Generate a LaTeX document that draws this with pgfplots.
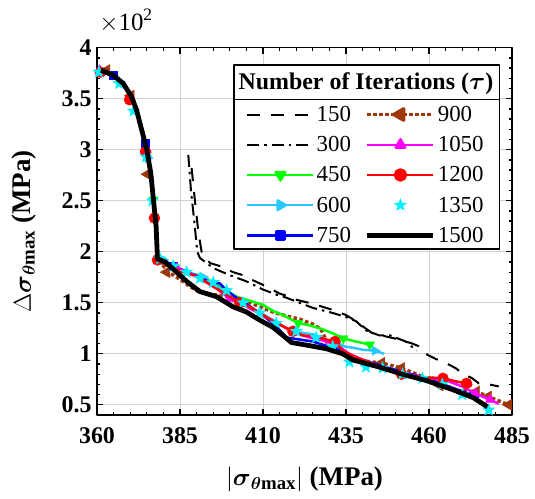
\documentclass[border=0pt]{standalone}
\usepackage{amsmath}
\usepackage{pgfplots}
\pgfplotsset{compat=1.18}
\usepackage{fontspec}
\setmainfont{Liberation Serif}
\definecolor{myg}{RGB}{0,255,0}
\definecolor{lblue}{RGB}{40,200,255}
\definecolor{brn}{RGB}{160,55,10}
\definecolor{cyn}{RGB}{0,240,255}
\definecolor{mag}{RGB}{255,0,255}
\pgfdeclareplotmark{fstar}{%
  \pgfpathmoveto{\pgfqpointpolar{90}{\pgfplotmarksize}}%
  \pgfpathlineto{\pgfqpointpolar{126}{0.42\pgfplotmarksize}}%
  \pgfpathlineto{\pgfqpointpolar{162}{\pgfplotmarksize}}%
  \pgfpathlineto{\pgfqpointpolar{198}{0.42\pgfplotmarksize}}%
  \pgfpathlineto{\pgfqpointpolar{234}{\pgfplotmarksize}}%
  \pgfpathlineto{\pgfqpointpolar{270}{0.42\pgfplotmarksize}}%
  \pgfpathlineto{\pgfqpointpolar{306}{\pgfplotmarksize}}%
  \pgfpathlineto{\pgfqpointpolar{342}{0.42\pgfplotmarksize}}%
  \pgfpathlineto{\pgfqpointpolar{18}{\pgfplotmarksize}}%
  \pgfpathlineto{\pgfqpointpolar{54}{0.42\pgfplotmarksize}}%
  \pgfpathclose\pgfusepathqfill}
\begin{document}
\begin{tikzpicture}
\useasboundingbox (-97bp,-84bp) rectangle (438bp,415bp);
\begin{axis}[
  scale only axis, width=415bp, height=367.3bp,
  xmin=360, xmax=485, ymin=0.40, ymax=4,
  xtick={360,385,410,435,460,485},
  ytick={0.5,1,1.5,2,2.5,3,3.5,4},
  minor x tick num=4, minor y tick num=4,
  tick align=inside,
  major tick length=6bp, minor tick length=3.5bp,
  grid=major, major grid style={black!18, line width=0.9bp},
  axis line style={line width=1.6bp},
  every tick/.style={black, line width=1.3bp},
  /pgf/number format/assume math mode=true,
  tick label style={font=\fontsize{24}{26}\selectfont\bfseries},
  yticklabel style={/pgf/number format/fixed, /pgf/number format/precision=1, xshift=-2bp},
  xticklabel style={/pgf/number format/fixed, /pgf/number format/1000 sep={}, yshift=-9bp},
  xlabel={$|\boldsymbol{\sigma}_{\boldsymbol{\theta}\mathbf{max}}|$ (MPa)},
  ylabel={$\Delta\boldsymbol{\sigma}_{\boldsymbol{\theta}\mathbf{max}}$ (MPa)},
  every axis x label/.style={at={(axis description cs:0.5,-0.176)}, anchor=center, font=\fontsize{27}{29}\selectfont\bfseries},
  every axis y label/.style={at={(axis description cs:-0.175,0.5)}, anchor=center, rotate=90, font=\fontsize{27}{29}\selectfont\bfseries},
  clip mode=individual,
  line join=round,
  mark size=5.5bp,
  legend image code/.code={\draw[mark repeat=2,mark phase=2] plot coordinates {(0bp,0bp) (33bp,0bp) (66bp,0bp)};},
  legend style={at={(axis description cs:0.648,0.6535)}, anchor=center,
    draw=none, fill=none, font=\fontsize{23}{25}\selectfont, row sep=9.5bp,
    /tikz/every even column/.append style={column sep=12bp}},
  legend columns=2, legend cell align=left,
]
% 150 dashed
\addplot[forget plot, black, line width=2bp, dash pattern=on 13bp off 11bp] coordinates {
(388.5,2.82)(389.5,2.5)(390.5,2.2)(391.5,2.0)(394,1.89)(397,1.86)(401,1.80)(404,1.77)(407,1.72)(411,1.66)(415,1.59)(418,1.56)(420,1.53)(425,1.49)(428,1.46)(431,1.43)(435,1.38)(438,1.32)(440,1.27)(443,1.20)(447,1.17)(451,1.14)(455,1.10)(458,1.06)(459.5,0.99)(462,0.95)(465,0.91)(468,0.86)(470,0.81)(473,0.76)(475,0.71)(478,0.70)(481,0.68)};
% 300 dash-dot
\addplot[forget plot, black, line width=2bp, dash pattern=on 12bp off 5bp on 2.5bp off 5bp] coordinates {
(387.5,2.95)(388.3,2.6)(389.3,2.3)(390.2,2.0)(391,1.94)(395,1.84)(400,1.77)(405,1.71)(410,1.63)(414,1.58)(417,1.55)(421,1.50)(425,1.45)(431,1.40)(435,1.36)(438,1.32)(441,1.23)(445,1.18)(448.3,1.18)(453,1.12)(456.3,1.03)};
% 900 brown dotted
\addplot[forget plot, brn, line width=3.5bp, dash pattern=on 3.5bp off 2.5bp] coordinates {
(360.8,3.77)(364.9,3.73)(367.9,3.65)(370.4,3.52)(371.9,3.39)(373.5,3.19)(375.0,3.0)(376.2,2.77)(377.0,2.51)(377.8,2.25)(378.1,2.02)(378.2,1.93)(380,1.86)(382,1.79)(385,1.73)(388,1.66)(391,1.60)(395,1.58)(400,1.56)(405,1.52)(409,1.46)(413,1.41)(417,1.37)(421,1.34)(425,1.29)(427.5,1.24)(430,1.06)(435,0.99)(440,0.93)(445.7,0.91)(451.7,0.86)(457,0.79)(463.3,0.69)(468,0.64)(474.3,0.63)(477.8,0.58)(484,0.50)};
\addplot[forget plot, brn, only marks, mark=triangle*, mark size=6.5bp, mark options={rotate=90}] coordinates {
(362.9,3.78)(370.2,3.53)(375.2,2.76)(381,1.80)(445.7,0.91)(451.7,0.86)(463.3,0.69)(474.3,0.63)(477.8,0.58)(484,0.50)};
% 450 green
\addplot[forget plot, myg, line width=2.5bp] coordinates {
(360.8,3.77)(364.9,3.73)(367.9,3.65)(370.4,3.52)(371.9,3.39)(373.5,3.19)(375.0,3.0)(376.2,2.77)(377.0,2.51)(377.8,2.25)(378.1,2.02)(378.2,1.93)(380,1.88)(383.5,1.84)(386,1.80)(391,1.77)(395,1.70)(399,1.62)(402,1.56)(406,1.52)(410,1.48)(413,1.42)(416,1.38)(420.6,1.30)(424,1.28)(428,1.24)(431,1.20)(434.2,1.15)(438,1.12)(442.2,1.09)};
\addplot[forget plot, myg, only marks, mark=triangle*, mark options={rotate=180}] coordinates {
(377,2.51)(383.5,1.84)(420.6,1.30)(434.2,1.15)(442.2,1.09)};
% 600 light blue
\addplot[forget plot, lblue, line width=2.5bp] coordinates {
(360.8,3.77)(364.9,3.73)(367.9,3.65)(370.4,3.52)(371.9,3.39)(373.5,3.19)(375.0,3.0)(376.2,2.77)(377.0,2.51)(377.8,2.25)(378.1,2.02)(378.2,1.93)(380,1.92)(383,1.86)(386,1.82)(389,1.78)(392,1.75)(396,1.66)(399,1.60)(402,1.53)(405,1.48)(408,1.42)(411,1.37)(414,1.31)(417,1.25)(421,1.21)(425,1.19)(429,1.14)(433,1.08)(437,1.06)(440,1.04)(443.7,1.03)(446.5,1.00)};
\addplot[forget plot, lblue, only marks, mark=triangle*, mark options={rotate=-90}] coordinates {
(375.3,2.92)(380,1.92)(392,1.75)(433,1.08)(443.7,1.03)};
% 750 blue
\addplot[forget plot, blue, line width=2.5bp] coordinates {
(360.8,3.77)(364.9,3.73)(367.9,3.65)(370.4,3.52)(371.9,3.39)(373.5,3.19)(375.0,3.0)(376.2,2.77)(377.0,2.51)(377.8,2.25)(378.1,2.02)(378.2,1.93)(380,1.90)(383,1.86)(388,1.79)(391,1.75)(394,1.70)(397,1.69)(399,1.62)(402,1.55)(405,1.49)(408,1.42)(411,1.35)(414,1.27)(417,1.16)(421,1.14)(425,1.12)(429,1.08)(433,1.04)(437,0.97)(441,0.93)(446,0.88)(451,0.83)(456,0.79)(461,0.74)(466,0.68)(471,0.62)(475,0.57)};
\addplot[forget plot, blue, only marks, mark=square*, mark size=4bp] coordinates {
(364.9,3.73)(374.5,3.06)(383,1.86)};
% 1050 magenta
\addplot[forget plot, mag, line width=2.5bp] coordinates {
(360.8,3.77)(364.9,3.73)(367.9,3.65)(370.4,3.52)(371.9,3.39)(373.5,3.19)(375.0,3.0)(376.2,2.77)(377.0,2.51)(377.8,2.25)(378.1,2.02)(378.2,1.93)(380,1.89)(384,1.84)(388,1.79)(392,1.72)(396,1.64)(400,1.54)(404,1.48)(408,1.41)(412,1.34)(416,1.27)(420,1.20)(424,1.16)(428,1.13)(432,1.09)(436,1.0)(440,0.94)(445,0.88)(450,0.83)(455,0.79)(460,0.76)(465,0.74)(470,0.68)(474,0.61)(478.4,0.55)(481,0.51)};
\addplot[forget plot, mag, only marks, mark=triangle*] coordinates {
(360.8,3.78)(370.2,3.50)(375,3.0)(384,1.84)(400,1.54)(474,0.61)(478.4,0.55)};
% 1200 red
\addplot[forget plot, red, line width=2.5bp] coordinates {
(360.8,3.77)(364.9,3.73)(367.9,3.65)(370.4,3.52)(371.9,3.39)(373.5,3.19)(375.0,3.0)(376.2,2.77)(377.0,2.51)(377.8,2.25)(378.1,2.02)(378.2,1.93)(380,1.88)(383,1.84)(386,1.80)(389,1.77)(391,1.74)(394,1.68)(397,1.62)(403,1.50)(406,1.46)(409,1.40)(413,1.32)(416,1.27)(419,1.22)(422,1.18)(426,1.17)(429,1.14)(431.7,1.12)(434,1.03)(437,0.98)(441,0.93)(446,0.86)(451.7,0.80)(455,0.78)(459,0.77)(464.2,0.76)(468,0.73)(471.3,0.71)(473,0.69)};
\addplot[forget plot, red, only marks, mark=*] coordinates {
(361,3.76)(369.8,3.49)(374.6,2.98)(377.3,2.33)(378.2,1.92)(403,1.50)(419,1.22)(431.7,1.12)(451.7,0.80)(464.2,0.76)(471.3,0.71)};
% 1350 cyan stars
\addplot[forget plot, cyn, only marks, mark=fstar, mark size=7bp] coordinates {
(360.6,3.76)(366.7,3.65)(371,3.38)(374.8,2.93)(376.7,2.5)(379,1.93)(383,1.86)(387,1.80)(391,1.74)(395,1.70)(399,1.62)(404,1.50)(409,1.40)(414,1.30)(420,1.22)(426,1.16)(431,1.07)(436,0.92)(441,0.87)(446,0.86)(452,0.80)(458,0.76)(464,0.70)(470,0.60)(478,0.45)};
% 1500 black thick
\addplot[forget plot, black, line width=4.8bp] coordinates {
(361.2,3.78)(364.9,3.73)(367.9,3.65)(370.4,3.52)(371.9,3.39)(373.5,3.19)(375.0,3.0)(376.2,2.77)(377.0,2.51)(377.8,2.25)(378.1,2.02)(378.2,1.93)(380.5,1.90)(383,1.83)(387,1.71)(391,1.61)(396,1.56)(401,1.46)(405,1.41)(409,1.33)(413,1.26)(416,1.18)(418.6,1.11)(424,1.08)(429,1.05)(434,1.00)(437,0.94)(445,0.87)(453,0.79)(459,0.74)(467,0.65)(473.3,0.57)(477.6,0.48)};
% legend frame
\draw[line width=1.2bp, fill=white] (axis description cs:0.330,0.452) rectangle (axis description cs:0.969,0.953);
\draw[line width=1.2bp] (axis description cs:0.330,0.860) -- (axis description cs:0.969,0.860);
\node[font=\fontsize{24}{26}\selectfont\bfseries] at (axis description cs:0.648,0.902) {Number of Iterations ($\boldsymbol{\tau}$)};
\node[anchor=south west, font=\fontsize{25}{27}\selectfont, inner sep=0pt] at (axis description cs:0.005,1.04) {$\times\mathrm{10}^{\mathrm{2}}$};
% legend entries (row-wise)
\addlegendimage{black, line width=2bp, dash pattern=on 13bp off 11bp}
\addlegendentry{150}
\addlegendimage{brn, line width=3.5bp, dash pattern=on 3.5bp off 2.5bp, mark=triangle*, mark size=6.5bp, mark options={solid, rotate=90}}
\addlegendentry{900}
\addlegendimage{black, line width=2bp, dash pattern=on 12bp off 5bp on 2.5bp off 5bp}
\addlegendentry{300}
\addlegendimage{mag, line width=2.5bp, mark=triangle*}
\addlegendentry{1050}
\addlegendimage{myg, line width=2.5bp, mark=triangle*, mark options={rotate=180}}
\addlegendentry{450}
\addlegendimage{red, line width=2.5bp, mark=*}
\addlegendentry{1200}
\addlegendimage{lblue, line width=2.5bp, mark=triangle*, mark options={rotate=-90}}
\addlegendentry{600}
\addlegendimage{cyn, only marks, mark=fstar, mark size=7bp}
\addlegendentry{1350}
\addlegendimage{blue, line width=2.5bp, mark=square*, mark size=4bp}
\addlegendentry{750}
\addlegendimage{black, line width=4.8bp}
\addlegendentry{1500}
\end{axis}
\end{tikzpicture}
\end{document}
